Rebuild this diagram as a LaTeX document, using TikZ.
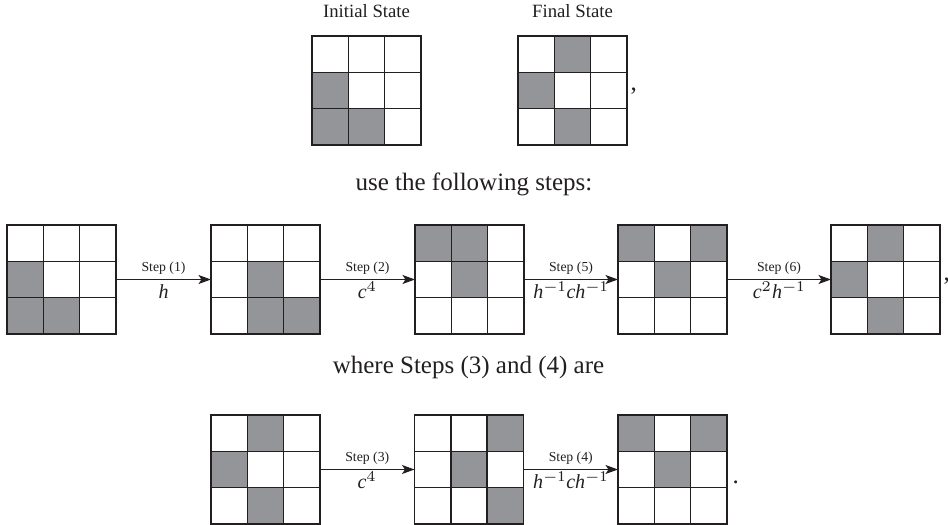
\documentclass[tikz,border=0pt]{standalone}
\usepackage{fontspec}
\setmainfont{Liberation Serif}
\usetikzlibrary{calc,arrows.meta}
\definecolor{cellgray}{RGB}{148,149,153}
\definecolor{ink}{RGB}{35,31,32}
\newcommand{\mi}[1]{\mathit{#1}}
\newcommand{\inv}{^{\mathrm{-1}}}
\tikzset{
  gridnode/.style={minimum size=43.6pt, inner sep=0pt, outer sep=0pt},
  gridline/.style={draw=ink, line width=0.6pt},
  conn/.style={draw=ink, line width=0.5pt, -{Stealth[length=5pt,width=3.6pt,inset=1.2pt]}},
  steplbl/.style={font=\rmfamily\fontsize{5.5}{6}\selectfont, text=ink, inner sep=0pt, anchor=base, yshift=3pt},
  mathlbl/.style={font=\rmfamily\fontsize{8}{9}\selectfont, text=ink, inner sep=0pt, anchor=base, yshift=-7.8pt},
  captxt/.style={font=\rmfamily\fontsize{7.5}{9}\selectfont, text=ink, inner sep=0pt, anchor=base},
  bodytext/.style={font=\rmfamily\fontsize{10}{12}\selectfont, text=ink, inner sep=0pt, anchor=base},
  punct/.style={font=\rmfamily\fontsize{10}{12}\selectfont, text=ink, inner sep=0pt, anchor=base west},
}
\newcommand{\cellgrid}[3]{%
  \node[gridnode] (#1) at (#2) {};
  \foreach \cc/\rr in {#3} {\fill[cellgray] ($(#1.north west)+(\cc*36.333,\rr*36.333)$) rectangle ++(36.333,36.333);}
  \foreach \ii in {1,2} {
    \draw[gridline] ($(#1.north west)+(\ii*36.333,0)$) -- ++(0,109);
    \draw[gridline] ($(#1.north west)+(0,\ii*36.333)$) -- ++(109,0);
  }
  \draw[gridline] (#1.north west) rectangle (#1.south east);
}
\begin{document}
\begin{tikzpicture}[x=0.4pt,y=-0.4pt]
\useasboundingbox (0,0) rectangle (948,525);
% top row
\node[captxt] (lblinit) at (366.5,18) {Initial State};
\node[captxt] (lblfinal) at (572.5,18) {Final State};
\cellgrid{init}{366.5,90.5}{0/1,0/2,1/2}
\cellgrid{final}{572.5,90.5}{1/0,0/1,1/2}
\node[punct] (comma1) at (630,91) {,};
\node[bodytext] (txtuse) at (474,191) {use the following steps:};
% middle row
\cellgrid{ga}{61.5,279.5}{0/1,0/2,1/2}
\cellgrid{gb}{265.5,279.5}{1/1,1/2,2/2}
\cellgrid{gc}{469.5,279.5}{0/0,1/0,1/1}
\cellgrid{gd}{672.5,279.5}{0/0,2/0,1/1}
\cellgrid{ge}{885.5,279.5}{1/0,0/1,1/2}
\node[punct] (comma2) at (943,281) {,};
\draw[conn] (ga.east) -- (gb.west) node[midway,steplbl] {Step (1)} node[midway,mathlbl] {$\mi{h}$};
\draw[conn] (gb.east) -- (gc.west) node[midway,steplbl] {Step (2)} node[midway,mathlbl] {$\mi{c}^{4}$};
\draw[conn] (gc.east) -- (gd.west) node[midway,steplbl] {Step (5)} node[midway,mathlbl] {$\mi{h}\inv\mi{c}\mi{h}\inv$};
\draw[conn] (gd.east) -- (ge.west) node[midway,steplbl] {Step (6)} node[midway,mathlbl] {$\mi{c}^{2}\mi{h}\inv$};
% bottom row
\node[bodytext] (txtwhere) at (468.5,374) {where Steps (3) and (4) are};
\cellgrid{ha}{265.5,469.5}{1/0,0/1,1/2}
\cellgrid{hb}{469,469.5}{2/0,1/1,2/2}
\cellgrid{hc}{672.5,469.5}{0/0,2/0,1/1}
\node[punct] (period) at (732,484) {.};
\draw[conn] (ha.east) -- (hb.west) node[midway,steplbl] {Step (3)} node[midway,mathlbl] {$\mi{c}^{4}$};
\draw[conn] (hb.east) -- (hc.west) node[midway,steplbl] {Step (4)} node[midway,mathlbl] {$\mi{h}\inv\mi{c}\mi{h}\inv$};
\end{tikzpicture}
\end{document}
